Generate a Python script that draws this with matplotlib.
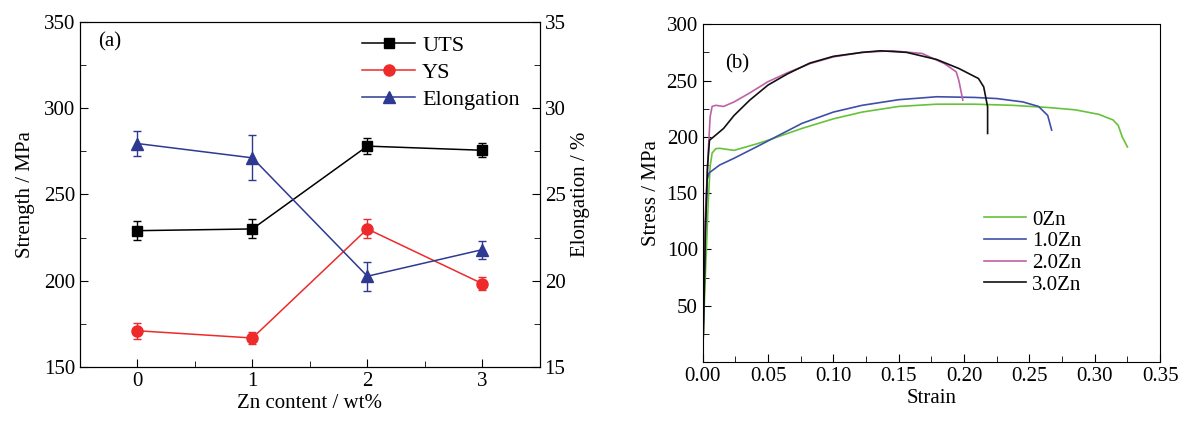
import matplotlib
matplotlib.use("Agg")
import matplotlib.pyplot as plt
from matplotlib.ticker import MultipleLocator
from matplotlib.lines import Line2D

plt.rcParams['font.family'] = ['Liberation Serif', 'DejaVu Serif']
plt.rcParams['font.size'] = 15
plt.rcParams['mathtext.fontset'] = 'stix'

# panel (a): mechanical properties vs Zn content
zn = [0, 1, 2, 3]
uts = [229, 230, 278, 275.6]
uts_err = [5.5, 5.5, 4.7, 4.0]
ys = [171, 166.8, 230, 198.3]
ys_err = [4.5, 3.6, 5.5, 3.6]
elong = [27.95, 27.12, 20.26, 21.8]
elong_err = [0.72, 1.3, 0.84, 0.52]

# panel (b): stress-strain curves
strain_0 = [0.0, 0.0023, 0.0043, 0.0057, 0.0072, 0.010, 0.013, 0.024, 0.042, 0.05, 0.076,
            0.10, 0.122, 0.15, 0.179, 0.208, 0.237, 0.265, 0.285, 0.303, 0.314, 0.318,
            0.321, 0.325]
stress_0 = [12, 85, 144, 174, 185.6, 189.5, 189.8, 188, 194, 197, 207.5,
            216, 222, 227, 229, 229, 228, 226, 224, 220, 215, 210,
            200, 191]
strain_1 = [0.0, 0.002, 0.0034, 0.0049, 0.013, 0.024, 0.042, 0.056, 0.076, 0.10, 0.122,
            0.15, 0.179, 0.208, 0.225, 0.245, 0.257, 0.264, 0.267]
stress_1 = [12, 115, 162, 168, 175, 181, 191.6, 200, 212, 222, 228,
            233, 235.6, 235, 234, 231, 227, 219, 206]
strain_2 = [0.0, 0.0014, 0.0043, 0.0057, 0.0072, 0.010, 0.016, 0.024, 0.036, 0.05, 0.065,
            0.082, 0.10, 0.122, 0.145, 0.168, 0.185, 0.194, 0.196, 0.199]
stress_2 = [12, 115, 188, 218, 227, 228, 227, 231, 239, 249, 257,
            265, 271, 275, 276.4, 274, 265, 257.7, 250, 232.6]
strain_3 = [0.0, 0.0006, 0.002, 0.0037, 0.0052, 0.010, 0.016, 0.024, 0.036, 0.05, 0.065,
            0.082, 0.10, 0.122, 0.136, 0.156, 0.179, 0.196, 0.211, 0.215, 0.218, 0.218]
stress_3 = [12, 26, 115, 174, 197, 201.6, 207.5, 219, 232.6, 246, 256,
            265.5, 271.5, 275, 276.4, 275, 268.7, 260.7, 251.8, 244.4, 226.7, 203]
curve_labels = ['0Zn', '1.0Zn', '2.0Zn', '3.0Zn']
curve_colors = ['#66c23a', '#3f4fa8', '#c060a8', '#111111']

fig = plt.figure(figsize=(11.85, 4.25), dpi=100)

# ---- (a) ----
ax = fig.add_axes([0.0675, 0.1365, 0.388, 0.812])
ax2 = ax.twinx()
ax.errorbar(zn, uts, yerr=uts_err, color='black', marker='s', ms=7, lw=1.1,
            capsize=3, elinewidth=1)
ax.errorbar(zn, ys, yerr=ys_err, color='#ee2a2a', marker='o', ms=8, lw=1.1,
            capsize=3, elinewidth=1)
ax2.errorbar(zn, elong, yerr=elong_err, color='#2e3a92', marker='^', ms=9, lw=1.1,
             capsize=3, elinewidth=1)
ax.set_xlim(-0.5, 3.5)
ax.set_ylim(150, 350)
ax2.set_ylim(15, 35)
ax.set_xticks(zn)
ax.xaxis.set_minor_locator(MultipleLocator(0.5))
ax.yaxis.set_major_locator(MultipleLocator(50))
ax.yaxis.set_minor_locator(MultipleLocator(25))
ax2.yaxis.set_major_locator(MultipleLocator(5))
ax2.yaxis.set_minor_locator(MultipleLocator(2.5))
ax.tick_params(which='both', direction='in', top=False, right=False)
ax.tick_params(which='major', length=6)
ax.tick_params(which='minor', length=4)
ax2.tick_params(which='major', direction='in', length=6)
ax2.tick_params(which='minor', direction='in', length=4)
ax.set_xlabel('Zn content / wt%', labelpad=2)
ax.set_ylabel('Strength / MPa', labelpad=6)
ax2.set_ylabel('Elongation / %', labelpad=4)
ax.text(0.04, 0.93, '(a)', transform=ax.transAxes, fontsize=15)
handles = [Line2D([], [], color='black', marker='s', ms=7, lw=1.1),
           Line2D([], [], color='#ee2a2a', marker='o', ms=8, lw=1.1),
           Line2D([], [], color='#2e3a92', marker='^', ms=9, lw=1.1)]
ax.legend(handles, ['UTS', 'YS', 'Elongation'], loc='upper right',
          bbox_to_anchor=(1.0, 1.02), frameon=False, handlelength=2.4,
          handletextpad=0.3, labelspacing=0.3, borderaxespad=0.5, fontsize=16)

# ---- (b) ----
bx = fig.add_axes([0.593, 0.148, 0.386, 0.795])
curves = [(strain_0, stress_0), (strain_1, stress_1), (strain_2, stress_2), (strain_3, stress_3)]
for (sx, sy), lab, c in zip(curves, curve_labels, curve_colors):
    bx.plot(sx, sy, color=c, lw=1.2, label=lab)
bx.set_xlim(0, 0.35)
bx.set_ylim(0, 300)
bx.set_xticks([0, 0.05, 0.10, 0.15, 0.20, 0.25, 0.30, 0.35])
bx.set_xticklabels(['0.00', '0.05', '0.10', '0.15', '0.20', '0.25', '0.30', '0.35'])
bx.set_yticks([50, 100, 150, 200, 250, 300])
bx.xaxis.set_minor_locator(MultipleLocator(0.025))
bx.yaxis.set_minor_locator(MultipleLocator(25))
bx.tick_params(which='both', direction='in', top=False, right=False)
bx.tick_params(which='major', length=6)
bx.tick_params(which='minor', length=4)
bx.set_xlabel('Strain', labelpad=2)
bx.set_ylabel('Stress / MPa', labelpad=4)
bx.text(0.05, 0.87, '(b)', transform=bx.transAxes, fontsize=15)
bx.legend(loc='center left', bbox_to_anchor=(0.575, 0.325), frameon=False,
          handlelength=2.0, handletextpad=0.3, labelspacing=0.1, fontsize=15)

fig.savefig('out.png', dpi=100)
